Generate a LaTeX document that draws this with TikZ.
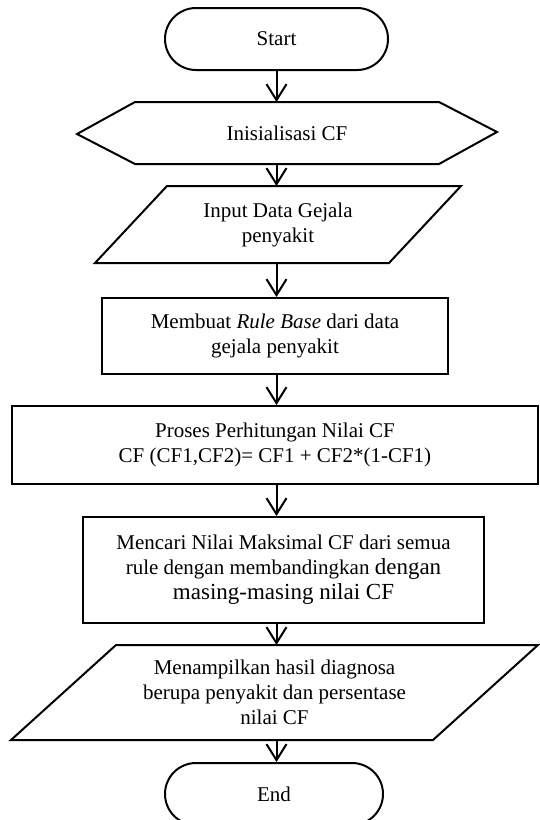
\documentclass[tikz,border=0pt]{standalone}
\usepackage{fontspec}
\setmainfont{Liberation Serif}
\usetikzlibrary{arrows.meta, calc}
\tikzset{
  term/.style={draw, rounded corners=31pt, minimum height=62pt},
  blk/.style={draw},
  flow/.style={->, line width=2pt},
}

\begin{document}
\begin{tikzpicture}[x=1pt, y=-1pt, line width=2pt, line join=miter,
    >={Straight Barb[length=16pt, width=20pt]},
    every node/.style={font=\fontsize{21}{25}\selectfont, align=center, inner sep=0pt}]
  \useasboundingbox (0,0) rectangle (539,820);
  % start / end terminals
  \node[term, minimum width=223pt] (start) at (276.5,39) {Start};
  \node[term, minimum width=218pt] (end) at (274,794) {End};
  % preparation (hexagon)
  \node[minimum width=302pt, minimum height=60pt] (init) at (287,133) {Inisialisasi CF};
  \draw (init.north west) -- (init.north east) -- ++(58,30) -- (init.south east)
    -- (init.south west) -- ++(-58,-30) -- cycle;
  % input (parallelogram)
  \node[minimum width=292pt, minimum height=75pt] (input) at (278,224.5) {Input Data Gejala\\penyakit};
  \draw ($(input.north west)+(36,0)$) -- ($(input.north east)+(36,0)$)
    -- ($(input.south east)+(-36,0)$) -- ($(input.south west)+(-36,0)$) -- cycle;
  % process boxes
  \node[blk, minimum width=346pt, minimum height=76pt] (rule) at (275,336)
    {Membuat \textit{Rule Base} dari data\\gejala penyakit};
  \node[blk, minimum width=526pt, minimum height=78pt] (proc) at (275,445)
    {Proses Perhitungan Nilai CF\\CF (CF1,CF2)= CF1 + CF2*(1-CF1)};
  \node[blk, minimum width=401pt, minimum height=106pt] (max) at (283.5,570)
    {Mencari Nilai Maksimal CF dari semua\\rule dengan membandingkan {\fontsize{23}{25}\selectfont dengan}\\
     {\fontsize{23}{25}\selectfont masing-masing nilai CF}};
  % output (parallelogram)
  \node[minimum width=420pt, minimum height=93pt] (output) at (274.5,692.5)
    {Menampilkan hasil diagnosa\\berupa penyakit dan persentase\\nilai CF};
  \draw ($(output.north west)+(52.5,0)$) -- ($(output.north east)+(52.5,0)$)
    -- ($(output.south east)+(-52.5,0)$) -- ($(output.south west)+(-52.5,0)$) -- cycle;
  % connectors
  \foreach \a/\b in {start/init, init/input, input/rule, rule/proc, proc/max, max/output, output/end}
    \draw[flow] (\a.south -| start) -- (\b.north -| start);
\end{tikzpicture}
\end{document}
